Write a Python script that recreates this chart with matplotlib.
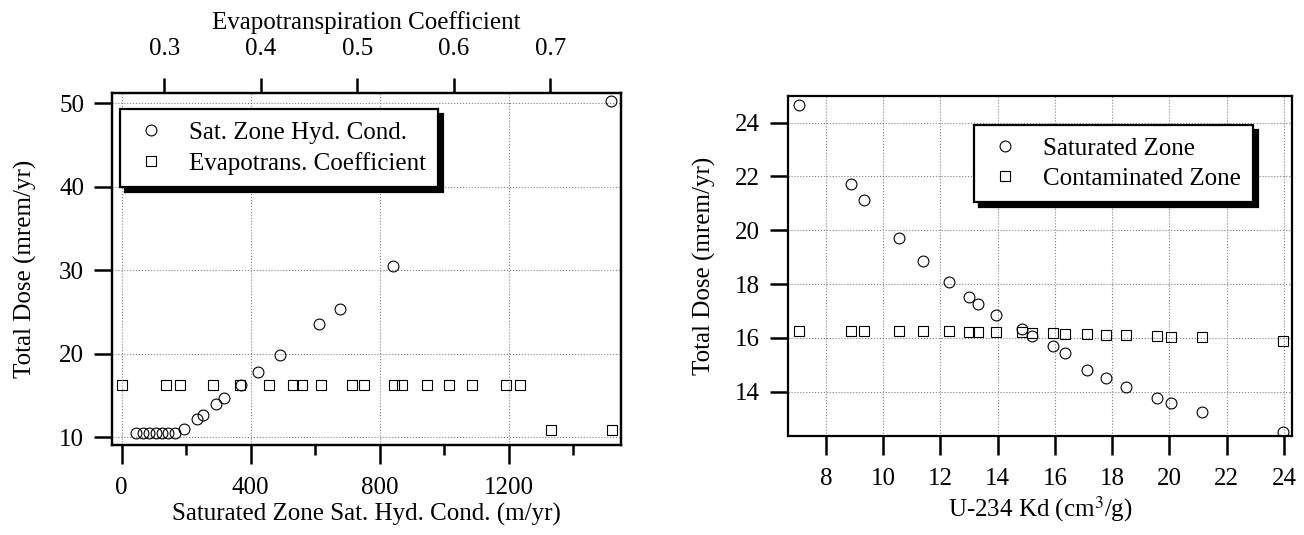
import matplotlib
matplotlib.use("Agg")
import matplotlib.pyplot as plt
from matplotlib.ticker import MultipleLocator

plt.rcParams['font.family'] = ['Liberation Serif', 'DejaVu Serif']
plt.rcParams['font.size'] = 18
plt.rcParams['mathtext.fontset'] = 'stix'

# left panel: saturated zone hydraulic conductivity (bottom axis)
sat_k = [45, 65, 85, 105, 125, 145, 165, 194, 232, 251, 292, 318, 369, 422, 491, 613, 677, 842, 1516]
sat_k_dose = [10.5, 10.5, 10.5, 10.5, 10.5, 10.5, 10.5, 11.0, 12.2, 12.7, 14.0, 14.7, 16.2,
              17.8, 19.8, 23.5, 25.3, 30.5, 50.2]

# left panel: evapotranspiration coefficient (top axis)
evap = [0.256, 0.302, 0.316, 0.351, 0.379, 0.409, 0.433, 0.443, 0.463, 0.495, 0.507,
        0.538, 0.546, 0.572, 0.595, 0.619, 0.654, 0.669, 0.701, 0.764]
evap_dose = [16.2, 16.2, 16.2, 16.2, 16.2, 16.2, 16.2, 16.2, 16.2, 16.2, 16.2,
             16.2, 16.2, 16.2, 16.2, 16.2, 16.2, 16.2, 10.9, 10.9]

# right panel: U-234 Kd
kd = [7.05, 8.88, 9.35, 10.56, 11.41, 12.31, 13.01, 13.33, 13.94, 14.84, 15.19, 15.94,
      16.35, 17.13, 17.77, 18.48, 19.55, 20.05, 21.12, 23.97]
sat_zone_dose = [24.66, 21.72, 21.13, 19.72, 18.86, 18.09, 17.53, 17.26, 16.85, 16.32, 16.07,
                 15.68, 15.43, 14.81, 14.50, 14.19, 13.76, 13.57, 13.24, 12.49]
cont_zone_dose = [16.27, 16.26, 16.26, 16.25, 16.25, 16.24, 16.23, 16.23, 16.22, 16.20, 16.19,
                  16.17, 16.16, 16.14, 16.12, 16.10, 16.07, 16.04, 16.02, 15.88]

mk = dict(linestyle='none', markerfacecolor='none', markeredgecolor='black',
          markeredgewidth=0.8, markersize=7.8)
grid_kw = dict(color='gray', linestyle=':', linewidth=0.8)


def style_axes(ax):
    for s in ax.spines.values():
        s.set_linewidth(1.6)
    ax.tick_params(which='major', direction='out', length=13, width=1.8, pad=7)
    ax.tick_params(which='minor', direction='out', length=7, width=1.8)
    ax.tick_params(axis='x', which='major', length=14, pad=9)


def add_legend(ax, handles, labels, anchor):
    leg = ax.legend(handles, labels, loc='upper left', bbox_to_anchor=anchor,
                    fancybox=False, shadow={'color': 'black', 'alpha': 1, 'ox': 3.5, 'oy': -3.5},
                    edgecolor='black', framealpha=1, borderpad=0.5,
                    handlelength=1.5, handletextpad=0.75, labelspacing=0.3,
                    borderaxespad=0)
    leg.get_frame().set_linewidth(1.6)
    return leg


fig = plt.figure(figsize=(13.04, 5.35), dpi=100)

# ---- left
ax1 = fig.add_axes([0.0859, 0.168, 0.3901, 0.658])
ax1.set_zorder(2)
ax1.patch.set_visible(False)
h1, = ax1.plot(sat_k, sat_k_dose, marker='o', **mk)
ax1.set_xlim(-30, 1547)
ax1.set_ylim(9.04, 51.2)
ax1.xaxis.set_major_locator(MultipleLocator(400))
ax1.xaxis.set_minor_locator(MultipleLocator(200))
ax1.yaxis.set_major_locator(MultipleLocator(10))
ax1.grid(True, which='major', **grid_kw)
ax1.set_xlabel('Saturated Zone Sat. Hyd. Cond. (m/yr)', labelpad=3)
ax1.set_ylabel('Total Dose (mrem/yr)', labelpad=16)
style_axes(ax1)

ax1t = ax1.twiny()
ax1t.set_zorder(1)
h2, = ax1t.plot(evap, evap_dose, marker='s', **mk)
ax1t.set_xlim(0.246, 0.773)
ax1t.xaxis.set_major_locator(MultipleLocator(0.1))
ax1t.set_xlabel('Evapotranspiration Coefficient', labelpad=6)
style_axes(ax1t)
ax1t.tick_params(which='major', length=11, pad=13)

add_legend(ax1, [h1, h2], ['Sat. Zone Hyd. Cond.', 'Evapotrans. Coefficient'], (0.0157, 0.9545))

# ---- right
ax2 = fig.add_axes([0.6043, 0.185, 0.3863, 0.636])
h3, = ax2.plot(kd, sat_zone_dose, marker='o', **mk)
h4, = ax2.plot(kd, cont_zone_dose, marker='s', **mk)
ax2.set_xlim(6.68, 24.27)
ax2.set_ylim(12.35, 25.0)
ax2.xaxis.set_major_locator(MultipleLocator(2))
ax2.yaxis.set_major_locator(MultipleLocator(2))
ax2.grid(True, **grid_kw)
ax2.set_xlabel('U-234 Kd (cm$^{3}$/g)', labelpad=3)
ax2.set_ylabel('Total Dose (mrem/yr)', labelpad=14)
style_axes(ax2)

add_legend(ax2, [h3, h4], ['Saturated Zone', 'Contaminated Zone'], (0.369, 0.915))

fig.savefig('out.png', dpi=100)
